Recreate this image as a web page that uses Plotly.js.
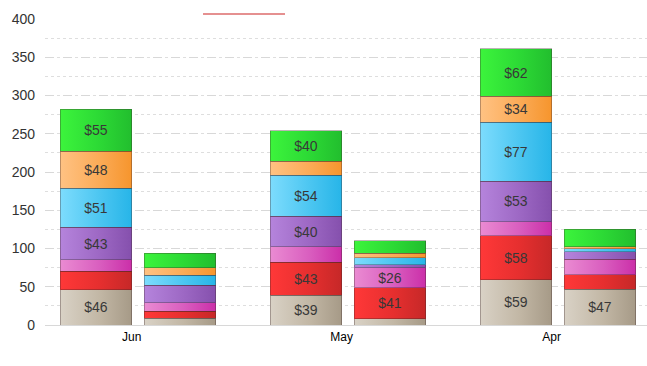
<!DOCTYPE html>
<html>
<head>
<meta charset="utf-8">
<script src="https://cdn.plot.ly/plotly-3.0.1.min.js"></script>
<style>html,body{margin:0;padding:0;background:#fff;}#chart{width:647px;height:366px;}</style>
</head>
<body>
<div id="chart"></div>
<script>
// Categories (months), two stacks per month: first stack, second stack
const months = ['Jun', 'May', 'Apr'];
const yTicks = [0, 50, 100, 150, 200, 250, 300, 350, 400];

// Series values, order: [Jun-1, Jun-2, May-1, May-2, Apr-1, Apr-2]
const tanVals    = [46, 9, 39, 8, 59, 47];
const redVals    = [24, 9, 43, 41, 58, 19];
const pinkVals   = [15, 11, 20, 26, 18, 20];
const purpleVals = [43, 23, 40, 4, 53, 10];
const blueVals   = [51, 13, 54, 9, 77, 4];
const orangeVals = [48, 10, 18, 6, 34, 2];
const greenVals  = [55, 19, 40, 16, 62, 23];

const series = [
  {name: 'Tan',    vals: tanVals,    color: '#c2b7a5', light: '#d9d2c6', dark: '#a69a87'},
  {name: 'Red',    vals: redVals,    color: '#e62f2f', light: '#ff3838', dark: '#c62828'},
  {name: 'Pink',   vals: pinkVals,   color: '#d95ebf', light: '#ea8bd2', dark: '#cb2fa9'},
  {name: 'Purple', vals: purpleVals, color: '#9d68c4', light: '#b584dc', dark: '#8550ad'},
  {name: 'Blue',   vals: blueVals,   color: '#4cc6f1', light: '#7ddcfd', dark: '#27b5e8'},
  {name: 'Orange', vals: orangeVals, color: '#fbab57', light: '#ffc283', dark: '#f6952d'},
  {name: 'Green',  vals: greenVals,  color: '#2cd935', light: '#3cf43c', dark: '#22be2e'}
];

// x positions: each month index, with two stacks side by side
const xPos = [];
months.forEach((m, i) => { xPos.push(i - 0.2); xPos.push(i + 0.2); });

const traces = series.map(s => ({
  type: 'bar',
  name: s.name,
  x: xPos,
  y: s.vals,
  width: 0.34,
  text: s.vals.map(v => v >= 25 ? '$' + v : ''),
  textposition: 'inside',
  insidetextanchor: 'middle',
  textangle: 0,
  constraintext: 'none',
  textfont: {family: 'Liberation Sans, Arial, sans-serif', size: 14, color: '#383838'},
  marker: {color: s.color, line: {color: 'rgba(60,40,40,0.35)', width: 1}},
  hoverinfo: 'x+y'
}));

const layout = {
  width: 647, height: 366,
  margin: {l: 45, r: 0, t: 19, b: 41},
  paper_bgcolor: '#fff', plot_bgcolor: '#fff',
  barmode: 'stack',
  showlegend: false,
  xaxis: {
    range: [-0.443, 2.424],
    tickvals: months.map((m, i) => i - 0.03),
    ticktext: months,
    showgrid: false, zeroline: false, showline: false,
    ticks: '',
    ticklabelstandoff: 3,
    tickfont: {family: 'Liberation Sans, Arial, sans-serif', size: 12, color: '#000'}
  },
  yaxis: {
    range: [0, 400],
    tickvals: yTicks,
    showgrid: true, gridcolor: '#d8d8d8', griddash: 'dash', gridwidth: 1,
    minor: {dtick: 25, showgrid: true, gridcolor: '#dedede', griddash: 'dot', gridwidth: 1},
    zeroline: true, zerolinecolor: '#d8d8d8', zerolinewidth: 1,
    showline: false, ticks: '',
    ticklabelstandoff: 9,
    tickfont: {family: 'Liberation Sans, Arial, sans-serif', size: 14, color: '#333'}
  },
  shapes: [
    {type: 'line', xref: 'paper', yref: 'paper', x0: 0.2625, x1: 0.3987, y0: 1.0163, y1: 1.0163,
     line: {color: '#cc2222', width: 1.2}}
  ]
};

Plotly.newPlot('chart', traces, layout, {displayModeBar: false, staticPlot: true}).then(gd => {
  // horizontal gradient styling on bar segments
  const svg = gd.querySelector('svg.main-svg');
  const NS = 'http://www.w3.org/2000/svg';
  let defs = svg.querySelector('defs');
  if (!defs) { defs = document.createElementNS(NS, 'defs'); svg.insertBefore(defs, svg.firstChild); }
  series.forEach((s, i) => {
    const g = document.createElementNS(NS, 'linearGradient');
    g.setAttribute('id', 'bargrad' + i);
    g.setAttribute('x1', '0'); g.setAttribute('y1', '0');
    g.setAttribute('x2', '1'); g.setAttribute('y2', '0');
    [[0, s.light], [0.55, s.color], [1, s.dark]].forEach(([o, c]) => {
      const st = document.createElementNS(NS, 'stop');
      st.setAttribute('offset', o); st.setAttribute('stop-color', c);
      g.appendChild(st);
    });
    defs.appendChild(g);
  });
  gd.querySelectorAll('.barlayer .trace').forEach((tr, i) => {
    tr.querySelectorAll('path').forEach(p => { p.style.fill = 'url(#bargrad' + i + ')'; });
  });
});
</script>
</body>
</html>
